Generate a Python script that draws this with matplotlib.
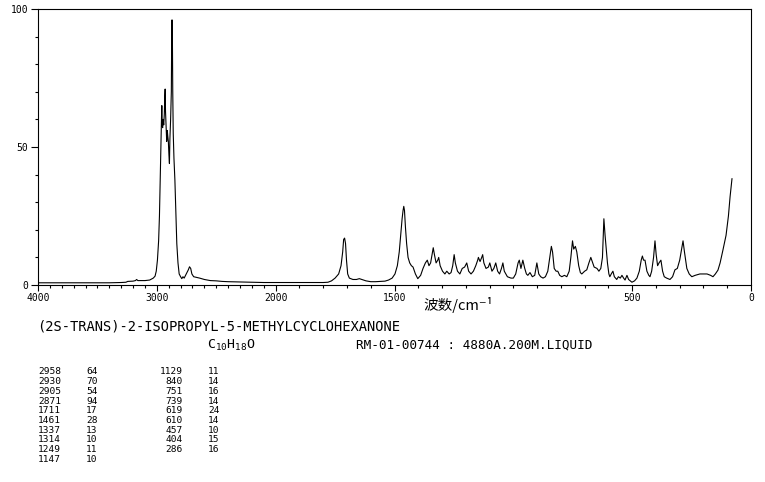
import numpy as np
import matplotlib
matplotlib.use('Agg')
from matplotlib import pyplot as plt
from matplotlib.ticker import FixedLocator, NullFormatter, FixedFormatter

"""Raman spectrum, (2S-trans)-2-isopropyl-5-methylcyclohexanone, SDBS layout."""

# spectrum: wavenumber (cm-1) and intensity (%)
raman_cm = [
    4000, 3700, 3400, 3300, 3260, 3245, 3200, 3180, 3170, 3160,
    3100, 3060, 3030, 3015, 3005, 2995, 2985, 2978, 2972, 2967,
    2963, 2960, 2958, 2955, 2951, 2947, 2942, 2937, 2933, 2930,
    2927, 2922, 2917, 2912, 2908, 2903, 2898, 2894, 2890, 2884,
    2878, 2874, 2870, 2866, 2862, 2856, 2848, 2840, 2832, 2822,
    2812, 2800, 2790, 2780, 2770, 2758, 2745, 2735, 2725, 2715,
    2705, 2690, 2670, 2640, 2600, 2550, 2500, 2450, 2400, 2300,
    2200, 2100, 2000, 1900, 1800, 1780, 1765, 1750, 1735, 1725,
    1718, 1714, 1710, 1706, 1702, 1697, 1690, 1675, 1660, 1648,
    1638, 1620, 1600, 1580, 1560, 1540, 1525, 1510, 1498, 1488,
    1480, 1474, 1468, 1464, 1461, 1458, 1454, 1449, 1443, 1436,
    1429, 1422, 1412, 1402, 1390, 1380, 1370, 1362, 1355, 1348,
    1340, 1337, 1332, 1325, 1318, 1314, 1308, 1298, 1288, 1280,
    1270, 1262, 1255, 1249, 1244, 1235, 1225, 1215, 1205, 1196,
    1188, 1178, 1168, 1158, 1150, 1147, 1140, 1133, 1129, 1124,
    1115, 1105, 1099, 1090, 1082, 1074, 1066, 1058, 1050, 1044,
    1038, 1025, 1010, 1000, 990, 980, 975, 968, 960, 952,
    945, 939, 930, 920, 910, 901, 893, 885, 875, 865,
    855, 845, 840, 835, 828, 820, 813, 805, 796, 785,
    775, 765, 758, 751, 746, 739, 733, 725, 718, 712,
    700, 691, 682, 674, 668, 660, 648, 640, 632, 625,
    619, 614, 610, 604, 598, 594, 588, 581, 575, 570,
    565, 558, 550, 543, 536, 530, 522, 515, 501, 490,
    480, 470, 462, 457, 452, 446, 438, 430, 425, 418,
    410, 404, 399, 393, 387, 379, 372, 365, 355, 341,
    330, 320, 310, 300, 292, 286, 280, 270, 260, 249,
    235, 215, 200, 185, 170, 160, 150, 139, 130, 118,
    105, 95, 88, 80,
]
raman_int = [
    0.8, 0.8, 0.8, 0.9, 1.0, 1.3, 1.4, 1.6, 2.0, 1.6,
    1.6, 1.8, 2.5, 3.2, 5, 9, 16, 25, 38, 50,
    56, 62, 65, 58, 57, 60, 58, 62, 68, 71,
    63, 57, 52, 56, 54, 52, 47, 44, 53, 60,
    70, 96, 96, 70, 55, 46, 38, 26, 15, 8,
    4, 3, 2.3, 3.0, 2.5, 3.5, 4.5, 5.5, 6.6, 6,
    4, 3, 2.8, 2.5, 2, 1.6, 1.5, 1.3, 1.2, 1.1,
    1.0, 0.9, 0.9, 0.9, 0.9, 1.0, 1.5, 2.5, 4, 7,
    12, 16.5, 17, 15, 9, 4, 2.5, 2, 2, 2.3,
    2, 1.5, 1.2, 1.2, 1.3, 1.4, 1.8, 2.5, 4, 7,
    12, 18, 24, 27, 28.5, 27, 21, 15, 10, 8,
    7, 6.5, 4, 2.3, 3.5, 6, 8, 9, 7, 8,
    12, 13.5, 11, 8, 9, 10, 7, 5, 4, 5,
    4, 4.5, 7, 11, 8, 5, 4, 6, 6.5, 8,
    5, 4, 5, 7, 9, 10, 8.5, 10, 11, 8,
    6, 6.5, 8, 5, 6, 8, 5, 4, 6, 8,
    5, 3, 2.5, 2.5, 4, 8, 9, 6, 9, 6,
    4, 3.5, 4.5, 3, 3.5, 8, 4, 3, 2.5, 3,
    5, 11, 14, 12, 6, 5, 5, 3.5, 3, 3.5,
    3, 5, 10, 16, 13, 14, 12, 7, 4.5, 4,
    5, 5.5, 8, 10, 8.5, 6.5, 6, 5, 6, 10,
    24, 18, 14, 8, 4, 3, 4, 5, 3, 2.5,
    2, 3, 2.5, 3.5, 2.5, 1.8, 3.5, 2, 1, 1.5,
    2.5, 5, 9, 10.5, 9, 9, 5, 3.5, 3, 5,
    10, 16, 11, 7, 8, 9, 5, 3, 2.5, 2,
    3, 5.5, 6, 9, 13, 16, 12, 6, 4, 3,
    3.5, 4, 4, 4, 3.5, 3, 4, 5.4, 8, 12.7,
    18, 25, 32, 38.5,
]

# peak table
peak_cm_1 = ['2958', '2930', '2905', '2871', '1711', '1461', '1337', '1314', '1249', '1147']
peak_int_1 = ['64', '70', '54', '94', '17', '28', '13', '10', '11', '10']
peak_cm_2 = ['1129', '840', '751', '739', '619', '610', '457', '404', '286']
peak_int_2 = ['11', '14', '16', '14', '24', '14', '10', '15', '16']

compound = '(2S-TRANS)-2-ISOPROPYL-5-METHYLCYCLOHEXANONE'
formula = r'C$_{10}$H$_{18}$O'
sample_info = 'RM-01-00744 : 4880A.200M.LIQUID'

x_major = [4000, 3000, 2000, 1500, 500, 0]
y_major = [0, 50, 100]

plt.rcParams['mathtext.fontset'] = 'custom'
plt.rcParams['mathtext.rm'] = 'DejaVu Sans Mono'
plt.rcParams['mathtext.default'] = 'rm'

W, H = 765, 482
fig = plt.figure(figsize=(W / 100, H / 100), dpi=100)


def px(x, y):
    return x / W, 1 - y / H


# axis region 4000-2000 is compressed to half scale
def fwd(w):
    w = np.asarray(w, dtype=float)
    return np.where(w <= 2000, w, 2000 + (w - 2000) * 0.5)


def inv(p):
    p = np.asarray(p, dtype=float)
    return np.where(p <= 2000, p, 2000 + (p - 2000) * 2.0)


l, b = px(38, 285)
r, t = px(751, 9)
ax = fig.add_axes([l, b, r - l, t - b])
ax.set_xscale('function', functions=(fwd, inv))
ax.plot(raman_cm, raman_int, color='k', lw=0.8)
ax.set_xlim(4000, 0)
ax.set_ylim(0, 100)

ax.xaxis.set_major_locator(FixedLocator(x_major))
ax.xaxis.set_major_formatter(FixedFormatter([str(v) for v in x_major]))
ax.xaxis.set_minor_locator(FixedLocator([v for v in range(0, 4001, 100) if v not in x_major]))
ax.xaxis.set_minor_formatter(NullFormatter())
ax.yaxis.set_major_locator(FixedLocator(y_major))
ax.yaxis.set_minor_locator(FixedLocator(range(0, 101, 10)))
ax.yaxis.set_minor_formatter(NullFormatter())

ax.tick_params(axis='x', which='major', length=4, width=0.8, pad=2, labelsize=7)
ax.tick_params(axis='x', which='minor', length=2.3, width=0.8)
ax.tick_params(axis='y', which='major', length=5, width=0.8, pad=2, labelsize=7)
ax.tick_params(axis='y', which='minor', length=2.3, width=0.8)
for lab in ax.get_xticklabels() + ax.get_yticklabels():
    lab.set_family('DejaVu Sans Mono')
for s in ax.spines.values():
    s.set_linewidth(0.8)

fig.text(*px(458, 305), '波数/cm⁻¹', family=['Noto Sans CJK SC', 'DejaVu Sans'],
         fontsize=10.5, ha='center', va='center')

mono = 'DejaVu Sans Mono'
fig.text(*px(37, 326), compound, family=mono, fontsize=9.9, va='center')
fig.text(*px(207, 345), formula, family=mono, fontsize=9.5, va='center')
fig.text(*px(356, 345), sample_info, family=mono, fontsize=9.1, va='center')

row_y0, row_dy = 372, 9.7
for i in range(len(peak_cm_1)):
    y = row_y0 + i * row_dy
    fig.text(*px(61, y), peak_cm_1[i], family=mono, fontsize=6.8, ha='right', va='center')
    fig.text(*px(86, y), peak_int_1[i], family=mono, fontsize=6.8, va='center')
for i in range(len(peak_cm_2)):
    y = row_y0 + i * row_dy
    fig.text(*px(183, y), peak_cm_2[i], family=mono, fontsize=6.8, ha='right', va='center')
    fig.text(*px(208, y), peak_int_2[i], family=mono, fontsize=6.8, va='center')

fig.savefig('out.png', dpi=100)
